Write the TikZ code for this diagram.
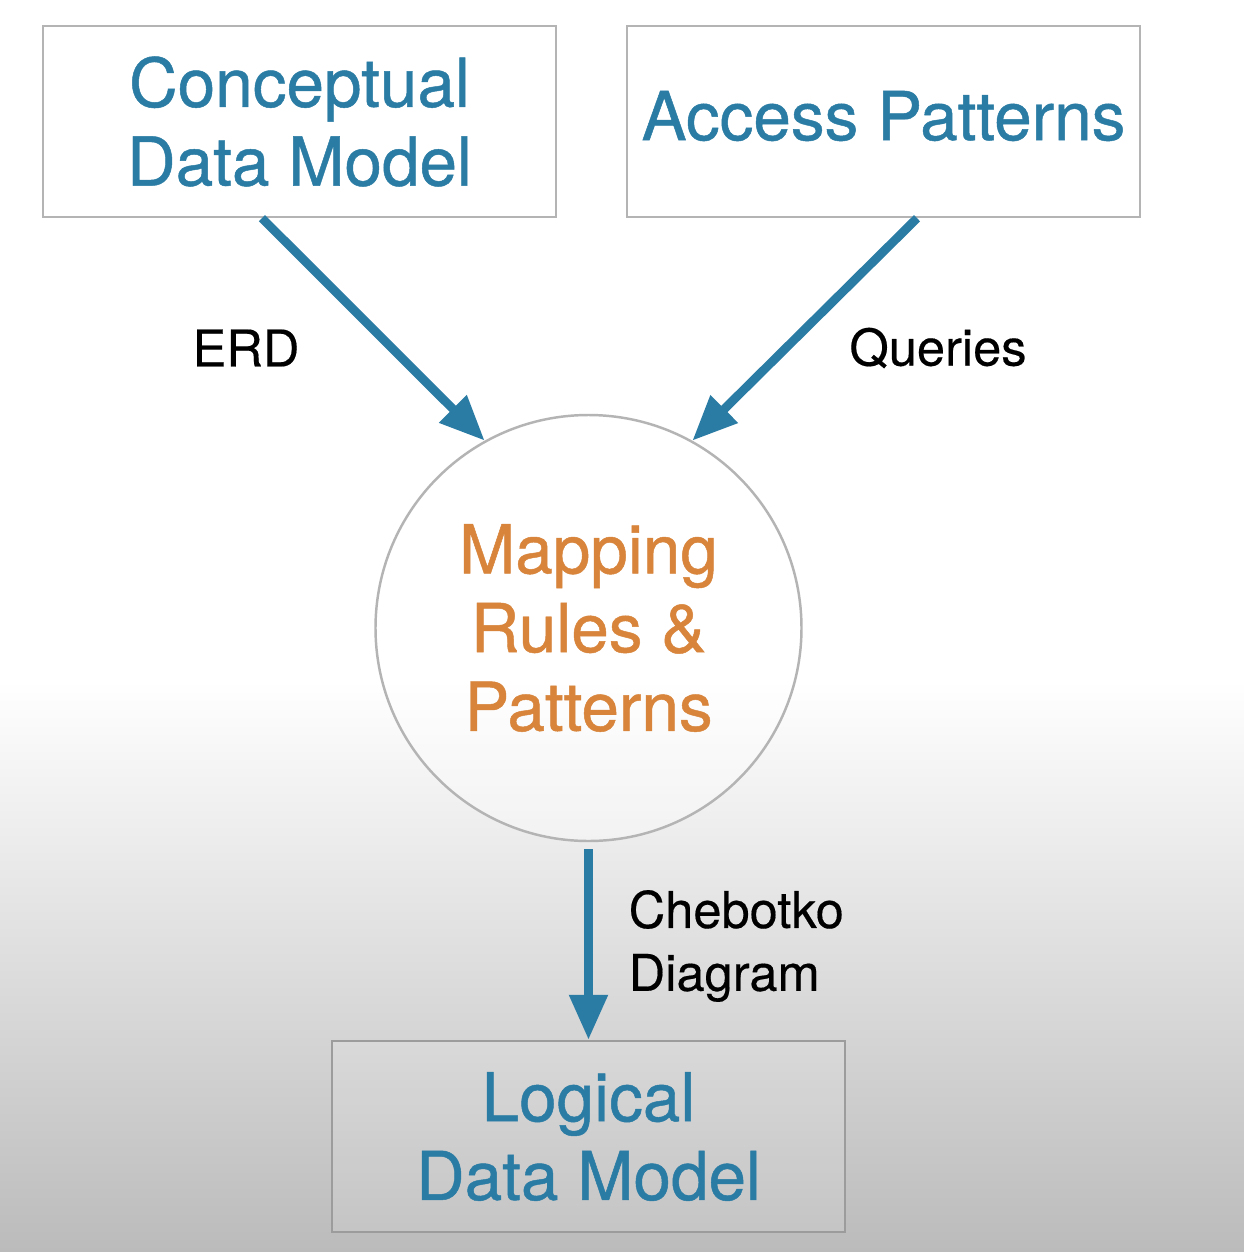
\documentclass[tikz,border=0pt]{standalone}
\usepackage{fontspec}
\setmainfont{TeX Gyre Heros}
\newfontfamily\heavyfont[FakeBold=0.7]{TeX Gyre Heros}
\newfontfamily\lblfamily[FakeBold=0.35]{TeX Gyre Heros}
\usetikzlibrary{arrows.meta,positioning}
\definecolor{cqlblue}{HTML}{2A7CA4}
\definecolor{cqlorange}{HTML}{D8843A}
\definecolor{boxline}{HTML}{B4B4B4}
\definecolor{boxlinedark}{HTML}{9C9C9C}
\definecolor{bgbottom}{HTML}{BBBBBB}
\newcommand{\bigfont}{\heavyfont\fontsize{19.2}{22.4}\selectfont}
\newcommand{\lblfont}{\lblfamily\fontsize{14.4}{17.9}\selectfont}

\begin{document}
\begin{tikzpicture}[->,>={Triangle[length=12.8pt,width=10.5pt]},
 box/.style={draw=boxline, line width=0.7pt, fill=white, minimum width=5.13cm,
  minimum height=1.91cm, align=center, text=cqlblue, font=\bigfont},
 flow/.style={->, draw=cqlblue, line width=2.5pt},
 lbl/.style={inner sep=0pt, font=\lblfont, text=black}]
 \useasboundingbox (0,0) rectangle (12.44,-12.52);
 % background: white top, grey towards the bottom
 \fill[white] (0,0) rectangle (12.44,-6.8);
 \shade[top color=white, bottom color=bgbottom] (0,-6.8) rectangle (12.44,-12.52);

 \node[box] (cdm) at (2.995, -1.215) {Conceptual\\Data Model};
 \node[box, text depth=0.12cm] (ap) at (8.835, -1.215) {Access Patterns};
 \node[circle, draw=boxline, line width=0.7pt, fill=white, fill opacity=0.35,
  text opacity=1, minimum size=4.26cm, align=center, text=cqlorange,
  font=\bigfont] (map) at (5.885, -6.28) {Mapping\\Rules \&\\Patterns};
 \node[box, draw=boxlinedark, fill opacity=0.12, text opacity=1] (ldm) at (5.885, -11.365) {Logical\\Data Model};

 \node[lbl] (erd) at (2.46, -3.48) {ERD};
 \node[lbl] (qry) at (9.38, -3.48) {Queries};
 \node[lbl, anchor=west, align=left] (cheb) at (6.28, -9.46) {Chebotko\\Diagram};

 \draw[flow] ([xshift=-0.375cm]ap.south -| cdm.south) -- (map.119);
 \draw[flow] ([xshift=0.335cm]ap.south) -- (map.61);
 \draw[flow] ([yshift=-0.07cm]map.south) -- (ldm.north);
\end{tikzpicture}
\end{document}
